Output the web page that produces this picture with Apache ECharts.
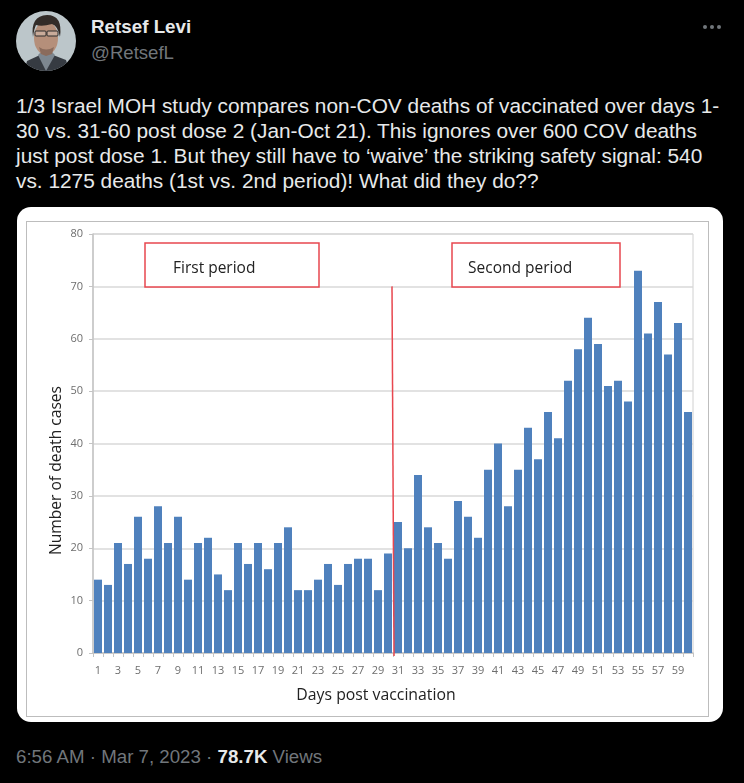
<!DOCTYPE html>
<html>
<head>
<meta charset="utf-8">
<title>Retsef Levi</title>
<script src="https://cdn.jsdelivr.net/npm/echarts@6/dist/echarts.min.js"></script>
<style>
html, body { margin: 0; padding: 0; background: #000; }
#page { position: relative; width: 744px; height: 783px; overflow: hidden; background: #000; font-family: "Liberation Sans", sans-serif; }
.t { position: absolute; white-space: nowrap; }
.line { left: 16px; color: #e7e9ea; font-size: 20.85px; line-height: 25px; }
#avatar { position: absolute; left: 16px; top: 11px; }
#dots { position: absolute; left: 700px; top: 22px; }
#card { position: absolute; left: 17px; top: 207px; width: 706px; height: 515px; background: #fff; border-radius: 14px; overflow: hidden; }
#frame { position: absolute; left: 9px; top: 14px; width: 683px; height: 496px; border: 1.5px solid #bdbdbd; box-sizing: border-box; }
#chart { position: absolute; left: 0; top: 0; width: 706px; height: 515px; filter: blur(0.4px); }
</style>
</head>
<body>
<div id="page">
	<svg id="avatar" width="60" height="60" viewBox="0 0 60 60">
		<defs><clipPath id="round"><circle cx="30" cy="30" r="30"></circle></clipPath></defs>
		<g clip-path="url(#round)">
			<rect width="60" height="60" fill="#bcc6ca"></rect>
			<path d="M8 62 L11 50 L24 44 L37 44 L50 49 L54 62 Z" fill="#363b42"></path>
			<path d="M22 44 L30 60 L39 44 L36 41 L25 41 Z" fill="#7d8790"></path>
			<ellipse cx="30" cy="27" rx="12" ry="17" fill="#b58f7a"></ellipse>
			<path d="M17 26 Q14 5 31 4 Q47 4 44 26 Q42 15 36 13 Q26 16 20 14 Q18 18 17 26 Z" fill="#332c28"></path>
			<rect x="19" y="20" width="11" height="5" rx="1" fill="#c9ab9a" stroke="#2c2c2c" stroke-width="1"></rect>
			<rect x="31" y="20" width="11" height="5" rx="1" fill="#c9ab9a" stroke="#2c2c2c" stroke-width="1"></rect>
			<path d="M23 36 Q30 41 38 36 L36 43 L30 45 L25 43 Z" fill="#8a6b5c"></path>
		</g>
	</svg>
	<div class="t" style="left:91px;top:17px;color:#e7e9ea;font-size:18.8px;font-weight:bold;line-height:20px;">Retsef Levi</div>
	<div class="t" style="left:91px;top:43px;color:#71767b;font-size:18.6px;line-height:20px;">@RetsefL</div>
	<svg id="dots" width="24" height="10" viewBox="0 0 24 10">
		<circle cx="5" cy="5" r="2" fill="#71767b"></circle>
		<circle cx="12" cy="5" r="2" fill="#71767b"></circle>
		<circle cx="19" cy="5" r="2" fill="#71767b"></circle>
	</svg>
	<div class="t line" style="top:93px;">1/3 Israel MOH study compares non-COV deaths of vaccinated over days 1-</div>
	<div class="t line" style="top:118px;">30 vs. 31-60 post dose 2 (Jan-Oct 21). This ignores over 600 COV deaths</div>
	<div class="t line" style="top:143px;">just post dose 1. But they still have to ‘waive’ the striking safety signal: 540</div>
	<div class="t line" style="top:168px;">vs. 1275 deaths (1st vs. 2nd period)! What did they do??</div>
	<div id="card">
		<div id="frame"></div>
		<div id="chart"></div>
	</div>
	<div class="t" style="left:16px;top:747px;color:#71767b;font-size:18.7px;line-height:20px;">6:56 AM · Mar 7, 2023 · <b style="color:#e7e9ea;">78.7K</b> Views</div>
</div>
<script>
// 横轴：接种后天数
var days = [];
for (var d = 1; d <= 60; d++) {
	days.push(String(d));
}
// 每天死亡例数
var firstPeriod = [14, 13, 21, 17, 26, 18, 28, 21, 26, 14, 21, 22, 15, 12, 21, 17, 21, 16, 21, 24, 12, 12, 14, 17, 13, 17, 18, 18, 12, 19];
var secondPeriod = [25, 20, 34, 24, 21, 18, 29, 26, 22, 35, 40, 28, 35, 43, 37, 46, 41, 52, 58, 64, 59, 51, 52, 48, 73, 61, 67, 57, 63, 46];
var deaths = firstPeriod.concat(secondPeriod);
var yTicks = [0, 10, 20, 30, 40, 50, 60, 70, 80];

var labelFont = '"Open Sans", sans-serif';
var myChart = echarts.init(document.getElementById('chart'));
var option = {
	animation: false,
	grid: {
		left: 76, right: 30, top: 27, bottom: 69,
		show: true,
		borderColor: '#d0d0d0',
		borderWidth: 1
	},
	xAxis: {
		type: 'category',
		data: days,
		name: 'Days post vaccination',
		nameLocation: 'middle',
		nameGap: 34,
		nameTextStyle: { color: '#222', fontFamily: labelFont, fontSize: 15.8, padding: [0, 34, 0, 0] },
		axisLine: { lineStyle: { color: '#c4c4c4', width: 1.5 } },
		axisTick: { show: true, alignWithLabel: false, interval: 0, length: 4, lineStyle: { color: '#c4c4c4' } },
		axisLabel: { interval: 1, color: '#6e6e6e', fontFamily: labelFont, fontSize: 11, margin: 12 }
	},
	yAxis: {
		type: 'value',
		min: yTicks[0],
		max: yTicks[yTicks.length - 1],
		interval: 10,
		name: 'Number of death cases',
		nameLocation: 'middle',
		nameGap: 28,
		nameMoveOverlap: false,
		nameTextStyle: { color: '#222', fontFamily: labelFont, fontSize: 15.6, padding: [0, 54, 0, 0] },
		axisLine: { show: true, lineStyle: { color: '#c4c4c4', width: 1.5 } },
		axisTick: { show: true, length: 4, lineStyle: { color: '#c4c4c4' } },
		axisLabel: { color: '#6e6e6e', fontFamily: labelFont, fontSize: 11, margin: 10 },
		splitLine: { lineStyle: { color: '#d9d9d9', width: 1.5 } }
	},
	series: [{
		name: 'Number of death cases',
		type: 'bar',
		data: deaths,
		barCategoryGap: '20%',
		itemStyle: { color: '#4f81bd' }
	}]
};
myChart.setOption(option);

// 两个红框和分隔线
var boxStyle = { fill: '#fff', stroke: '#e8474f', lineWidth: 1.5 };
var top70 = myChart.convertToPixel({ yAxisIndex: 0 }, 70);
var bottom0 = myChart.convertToPixel({ yAxisIndex: 0 }, 0);
myChart.setOption({
	graphic: [
		{ type: 'rect', z: 10, shape: { x: 128, y: 36, width: 174, height: 44 }, style: boxStyle },
		{ type: 'text', z: 11, style: { x: 156, y: 62, text: 'First period', fill: '#222', verticalAlign: 'middle', font: '15.5px ' + labelFont } },
		{ type: 'rect', z: 10, shape: { x: 435, y: 36, width: 168, height: 44 }, style: boxStyle },
		{ type: 'text', z: 11, style: { x: 451, y: 62, text: 'Second period', fill: '#222', verticalAlign: 'middle', font: '15.5px ' + labelFont } },
		{ type: 'line', z: 12, shape: { x1: 375, y1: top70, x2: 377, y2: bottom0 + 3 }, style: { stroke: '#e8474f', lineWidth: 1.5 } }
	]
});
</script>
</body>
</html>
